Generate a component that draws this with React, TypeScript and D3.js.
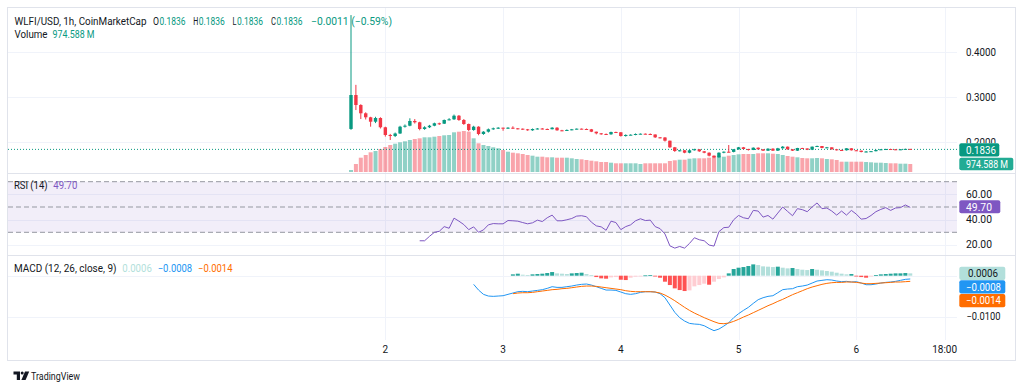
import * as d3 from 'd3'

const W = 1024
const H = 389
const FONT = 'Roboto, "Noto Sans", sans-serif'
const TEXT = '#131722'
const UP = '#089981'
const DOWN = '#f23645'
const GRID = '#f0f3fa'
const BORDER = '#e0e3eb'

// hourly candles, first one at day 1 17:00
const tickIdx = [7, 31, 55, 79, 103, 121]
const tickLabels = ['2', '3', '4', '5', '6', '18:00']

const firstOpen = 0.229
const closes = [
  0.3044, 0.2822, 0.2638, 0.2549, 0.2451, 0.2533, 0.2327, 0.2156, 0.2133, 0.2189,
  0.2340, 0.2362, 0.2467, 0.2438, 0.2289, 0.2327, 0.2362, 0.2416, 0.2407, 0.2489,
  0.2504, 0.2584, 0.2489, 0.2400, 0.2267, 0.2340, 0.2178, 0.2229, 0.2282, 0.2304,
  0.2318, 0.2296, 0.2318, 0.2304, 0.2296, 0.2282, 0.2260, 0.2289, 0.2300, 0.2289,
  0.2284, 0.2318, 0.2260, 0.2256, 0.2267, 0.2282, 0.2296, 0.2289, 0.2282, 0.2229,
  0.2193, 0.2178, 0.2171, 0.2222, 0.2216, 0.2133, 0.2156, 0.2162, 0.2178, 0.2184,
  0.2178, 0.2167, 0.2104, 0.2100, 0.2029, 0.1882, 0.1800, 0.1816, 0.1762, 0.1816,
  0.1838, 0.1793, 0.1762, 0.1696, 0.1660, 0.1762, 0.1784, 0.1780, 0.1838, 0.1882,
  0.1844, 0.1822, 0.1873, 0.1838, 0.1807, 0.1851, 0.1807, 0.1860, 0.1896, 0.1838,
  0.1807, 0.1867, 0.1856, 0.1829, 0.1896, 0.1911, 0.1867, 0.1882, 0.1838, 0.1822,
  0.1816, 0.1860, 0.1816, 0.1807, 0.1778, 0.1789, 0.1796, 0.1822, 0.1838, 0.1844,
  0.1838, 0.1829, 0.1838, 0.1847, 0.1836,
]
const highs = [
  0.482, 0.327, 0.284, 0.266, 0.256, 0.256, 0.255, 0.234, 0.218, 0.221,
  0.236, 0.239, 0.2527, 0.251, 0.245, 0.235, 0.238, 0.243, 0.243, 0.250,
  0.253, 0.261, 0.260, 0.251, 0.241, 0.236, 0.235, 0.224, 0.230, 0.232,
  0.233, 0.232, 0.233, 0.235, 0.231, 0.230, 0.229, 0.230, 0.231, 0.231,
  0.230, 0.233, 0.233, 0.227, 0.228, 0.229, 0.230, 0.230, 0.230, 0.229,
  0.223, 0.220, 0.219, 0.223, 0.223, 0.222, 0.217, 0.217, 0.219, 0.219,
  0.219, 0.219, 0.217, 0.211, 0.211, 0.203, 0.189, 0.182, 0.182, 0.182,
  0.185, 0.184, 0.180, 0.177, 0.170, 0.177, 0.179, 0.1933, 0.184, 0.189,
  0.189, 0.185, 0.188, 0.188, 0.184, 0.186, 0.186, 0.187, 0.191, 0.190,
  0.184, 0.187, 0.187, 0.186, 0.190, 0.192, 0.191, 0.189, 0.188, 0.184,
  0.183, 0.186, 0.186, 0.182, 0.181, 0.180, 0.180, 0.183, 0.184, 0.185,
  0.185, 0.184, 0.184, 0.185, 0.1847,
]
const lows = [
  0.227, 0.271, 0.251, 0.250, 0.234, 0.242, 0.230, 0.212, 0.2044, 0.211,
  0.218, 0.232, 0.235, 0.241, 0.226, 0.227, 0.231, 0.235, 0.238, 0.240,
  0.248, 0.249, 0.247, 0.238, 0.224, 0.225, 0.215, 0.216, 0.221, 0.227,
  0.229, 0.225, 0.229, 0.229, 0.228, 0.227, 0.225, 0.225, 0.228, 0.228,
  0.227, 0.228, 0.225, 0.224, 0.225, 0.226, 0.228, 0.228, 0.227, 0.222,
  0.217, 0.216, 0.216, 0.216, 0.220, 0.212, 0.212, 0.215, 0.215, 0.217,
  0.217, 0.216, 0.209, 0.208, 0.201, 0.187, 0.178, 0.179, 0.175, 0.175,
  0.181, 0.178, 0.175, 0.168, 0.164, 0.165, 0.175, 0.177, 0.177, 0.183,
  0.184, 0.181, 0.182, 0.183, 0.180, 0.180, 0.180, 0.180, 0.185, 0.183,
  0.180, 0.180, 0.185, 0.182, 0.182, 0.189, 0.186, 0.186, 0.183, 0.181,
  0.181, 0.181, 0.181, 0.180, 0.177, 0.177, 0.178, 0.179, 0.182, 0.183,
  0.183, 0.182, 0.182, 0.183, 0.1836,
]
// volume in millions
const volumes = [
  244, 976, 1745, 2074, 2403, 2562, 2806, 3050, 3294, 3453,
  3623, 3745, 3904, 4026, 4111, 4233, 4233, 4307, 4392, 4477,
  4514, 4843, 4917, 5002, 4917, 4111, 3501, 3294, 3172, 3013,
  2891, 2684, 2477, 2355, 2281, 2196, 2074, 1989, 1867, 1867,
  1793, 1793, 1745, 1745, 1745, 1671, 1586, 1549, 1464, 1379,
  1305, 1220, 1220, 1135, 1061, 1061, 1061, 1061, 1061, 976,
  1061, 1061, 1061, 1061, 1061, 1342, 1427, 1501, 1501, 1623,
  1671, 1671, 1671, 1745, 1915, 1989, 1867, 1989, 2074, 2159,
  2196, 2196, 2196, 2281, 2281, 2281, 2233, 2196, 2074, 1952,
  1867, 1793, 1708, 1671, 1671, 1708, 1671, 1586, 1549, 1464,
  1257, 1257, 1257, 1257, 1257, 1220, 1183, 1135, 1135, 1098,
  1061, 1061, 1013, 1013, 974.588,
]

const rsiStart = 14
const rsiValues = [
  23.3, 23.3, 26.8, 30.0, 30.8, 34.5, 33.2, 41.2, 38.8, 36.1,
  32.1, 34.3, 30.0, 31.9, 35.9, 36.9, 36.7, 36.7, 39.3, 39.1,
  38.8, 37.7, 36.7, 37.5, 39.6, 38.5, 41.5, 43.6, 39.1, 39.1,
  39.9, 40.9, 42.8, 43.1, 42.3, 38.0, 35.1, 34.3, 31.6, 38.8,
  37.7, 32.1, 34.5, 35.9, 39.1, 40.7, 39.3, 39.6, 34.5, 32.9,
  28.7, 19.3, 17.5, 18.8, 17.5, 21.2, 25.7, 24.1, 23.3, 19.9,
  19.1, 30.5, 33.7, 34.0, 39.9, 43.3, 41.5, 40.7, 47.3, 46.8,
  42.0, 43.3, 40.4, 45.2, 50.0, 46.5, 43.1, 48.7, 47.9, 46.3,
  50.0, 53.2, 48.7, 49.2, 46.8, 43.6, 46.8, 43.6, 47.3, 44.4,
  40.4, 40.9, 43.3, 46.3, 48.1, 49.5, 47.3, 49.2, 49.5, 51.6,
  49.7,
]
const rsiTicks = [60, 40, 20]
const rsiBands = [70, 50, 30]

const macdStart = 25
const macdValues = [
  -0.00211, -0.0035, -0.00455, -0.00496, -0.00504, -0.00496, -0.00488, -0.00455, -0.00423, -0.0039,
  -0.00382, -0.0039, -0.00374, -0.00358, -0.00341, -0.00309, -0.00268, -0.00285, -0.00285, -0.00268,
  -0.00252, -0.00228, -0.00211, -0.00203, -0.00228, -0.00268, -0.00309, -0.0035, -0.0035, -0.00358,
  -0.00398, -0.00439, -0.00455, -0.00439, -0.00407, -0.0039, -0.0039, -0.00398, -0.00439, -0.00537,
  -0.00715, -0.00894, -0.01024, -0.01106, -0.01163, -0.01179, -0.01187, -0.0122, -0.01285, -0.01341,
  -0.01301, -0.01228, -0.01146, -0.01024, -0.00927, -0.00846, -0.00772, -0.00675, -0.00585, -0.00537,
  -0.00504, -0.00488, -0.00415, -0.00341, -0.00325, -0.00317, -0.00268, -0.00252, -0.00228, -0.00179,
  -0.0013, -0.00114, -0.00098, -0.00106, -0.0013, -0.00146, -0.00138, -0.00154, -0.00146, -0.00179,
  -0.0022, -0.0022, -0.00203, -0.00179, -0.00163, -0.00154, -0.00138, -0.00114, -0.00089, -0.0008,
]
const signalStart = 33
const signalValues = [
  -0.00439, -0.00423, -0.00415, -0.00415, -0.00407, -0.0039, -0.00374, -0.00358, -0.00341, -0.00333,
  -0.00317, -0.00309, -0.00293, -0.00276, -0.0026, -0.00252, -0.00252, -0.0026, -0.00276, -0.00293,
  -0.00309, -0.00325, -0.00341, -0.00366, -0.00382, -0.0039, -0.0039, -0.0039, -0.0039, -0.00398,
  -0.00423, -0.00472, -0.00537, -0.0061, -0.00691, -0.00772, -0.00846, -0.00911, -0.00967, -0.01024,
  -0.01073, -0.01122, -0.01163, -0.01171, -0.01154, -0.01114, -0.01065, -0.01008, -0.00959, -0.00902,
  -0.00846, -0.00789, -0.00732, -0.00683, -0.00626, -0.00577, -0.0052, -0.00463, -0.00415, -0.00366,
  -0.00317, -0.00276, -0.00244, -0.00211, -0.00187, -0.00171, -0.00163, -0.00163, -0.00154, -0.00154,
  -0.00163, -0.00179, -0.00195, -0.00195, -0.00187, -0.00179, -0.00171, -0.00163, -0.00154, -0.00154,
  -0.00146, -0.00138,
]
const histValues = [
  0.00033, 0.00049, 0.00024, 0.00016, 0.00033, 0.00041, 0.00049, 0.00065, 0.00089, 0.00057,
  0.00049, 0.00041, 0.00057, 0.00065, 0.00073, 0.00041, 0.00016, -0.00033, -0.00065, -0.00073,
  -0.00041, -0.00033, -0.00098, -0.00106, -0.00049, -0.00024, -0.00008, 0.00008, 0.00016, -0.00016,
  -0.00049, -0.00146, -0.00228, -0.00309, -0.0035, -0.00374, -0.00358, -0.0026, -0.00228, -0.00195,
  -0.0022, -0.00146, -0.00081, -0.00041, 0.00057, 0.00163, 0.00195, 0.00211, 0.00236, 0.00276,
  0.0026, 0.00228, 0.0022, 0.00211, 0.0022, 0.00195, 0.00179, 0.00187, 0.00163, 0.00146,
  0.00138, 0.00163, 0.00146, 0.0013, 0.00114, 0.00098, 0.00073, 0.00049, 0.00033, 0.00041,
  -0.00016, -0.00033, -0.00049, -0.00016, 0.00016, 0.00033, 0.00041, 0.00049, 0.00057, 0.00057,
  0.00065, 0.00057,
]

const priceTicks = [0.2, 0.3, 0.4]
const macdTicks = [0, -0.01]

const headerParts = [
  { x: 14.5, text: 'WLFI/USD, 1h, CoinMarketCap', color: TEXT, len: 132 },
  { x: 153, text: 'O', color: TEXT, len: 6 },
  { x: 159.5, text: '0.1836', color: UP, len: 26 },
  { x: 193.3, text: 'H', color: TEXT, len: 5 },
  { x: 198.8, text: '0.1836', color: UP, len: 26 },
  { x: 232.6, text: 'L', color: TEXT, len: 4 },
  { x: 237.1, text: '0.1836', color: UP, len: 26 },
  { x: 271, text: 'C', color: TEXT, len: 5 },
  { x: 276.5, text: '0.1836', color: UP, len: 26 },
  { x: 311, text: '−0.0011 (−0.59%)', color: UP, len: 81 },
]

const fmtVol = (v: number) => `${v.toFixed(3)} M`

function Label({ x, y, text, fill, size = 10, anchor = 'start', len, clip }: any) {
  return (
    <text x={x} y={y} fill={fill} fontSize={size} textAnchor={anchor} clipPath={clip}
      {...(len ? { textLength: len, lengthAdjust: 'spacingAndGlyphs' } : {})}>
      {text}
    </text>
  )
}

export default function App() {
  const x = d3.scaleLinear().domain([0, 121]).range([351, 944.6])
  const yP = d3.scaleLinear().domain([0.2, 0.4]).range([142, 52])
  const yV = d3.scaleLinear().domain([0, 5002]).range([172, 131])
  const yR = d3.scaleLinear().domain([30, 70]).range([232.3, 181.7])
  const yM = d3.scaleLinear().domain([-0.01, 0]).range([316.7, 275.7])

  const opens = closes.map((c, i) => (i === 0 ? firstOpen : closes[i - 1]))
  const left = 8
  const plotRight = 957
  const right = 1015

  const rsiPath = d3.line<number>().x((_, k) => x(rsiStart + k)).y(d => yR(d))(rsiValues) || ''
  const macdPath = d3.line<number>().x((_, k) => x(macdStart + k)).y(d => yM(d))(macdValues) || ''
  const signalPath = d3.line<number>().x((_, k) => x(signalStart + k)).y(d => yM(d))(signalValues) || ''

  const histColor = (v: number, prev: number) =>
    v >= 0 ? (v >= prev ? '#26a69a' : '#b2dfdb') : (v < prev ? '#ff5252' : '#ffcdd2')

  const lastClose = closes[closes.length - 1]
  const lastVol = fmtVol(volumes[volumes.length - 1])

  return (
    <svg width={W} height={H} style={{ position: 'absolute', left: 0, top: 0, fontFamily: FONT }}>
      <defs>
        <clipPath id="aboveBox">
          <rect x={950} y={120} width={70} height={23.3} />
        </clipPath>
      </defs>
      <rect width={W} height={H} fill="#fff" />
      <rect x={7.5} y={7.5} width={1008} height={353} fill="none" stroke={BORDER} />

      {/* vertical grid */}
      {tickIdx.map(t => (
        <line key={t} x1={Math.round(x(t)) + 0.5} x2={Math.round(x(t)) + 0.5} y1={8} y2={340} stroke={GRID} />
      ))}
      {/* price grid */}
      {priceTicks.map(p => (
        <line key={p} x1={left} x2={plotRight} y1={Math.round(yP(p)) + 0.5} y2={Math.round(yP(p)) + 0.5} stroke={GRID} />
      ))}
      {/* rsi grid */}
      {rsiTicks.map(r => (
        <line key={r} x1={left} x2={plotRight} y1={Math.round(yR(r)) + 0.5} y2={Math.round(yR(r)) + 0.5} stroke={GRID} />
      ))}
      {macdTicks.map(m => (
        <line key={m} x1={left} x2={plotRight} y1={Math.round(yM(m)) + 0.5} y2={Math.round(yM(m)) + 0.5} stroke={GRID} />
      ))}

      {/* pane separators */}
      <line x1={left} x2={right} y1={173.5} y2={173.5} stroke={BORDER} />
      <line x1={left} x2={right} y1={255.5} y2={255.5} stroke={BORDER} />

      {/* volume */}
      {volumes.map((v, i) => (
        <rect key={i} x={x(i) - 2} width={4} y={yV(v)} height={yV(0) - yV(v)}
          fill={closes[i] >= opens[i] ? UP : DOWN} fillOpacity={0.45} />
      ))}

      {/* last price line */}
      <line x1={left} x2={plotRight} y1={yP(lastClose)} y2={yP(lastClose)} stroke={UP} strokeDasharray="1,2" />

      {/* candles */}
      {closes.map((c, i) => {
        const o = opens[i]
        const col = c >= o ? UP : DOWN
        const top = yP(Math.max(o, c))
        const h = Math.max(1, Math.abs(yP(o) - yP(c)))
        return (
          <g key={i}>
            <line x1={x(i)} x2={x(i)} y1={yP(highs[i])} y2={yP(lows[i])} stroke={col} strokeWidth={1} />
            <rect x={x(i) - 1.7} width={3.4} y={top} height={h} fill={col} />
          </g>
        )
      })}

      {/* RSI */}
      <rect x={left} width={plotRight - left} y={yR(70)} height={yR(30) - yR(70)} fill="#7e57c2" fillOpacity={0.1} />
      {rsiBands.map(b => (
        <line key={b} x1={left} x2={plotRight} y1={yR(b)} y2={yR(b)} stroke="#9598a1" strokeDasharray="5,3" />
      ))}
      <path d={rsiPath} fill="none" stroke="#7e57c2" strokeWidth={1} />

      {/* MACD */}
      {histValues.map((v, k) => {
        const prev = k === 0 ? 0 : histValues[k - 1]
        const y0 = yM(0)
        const y1 = yM(v)
        return (
          <rect key={k} x={x(signalStart + k) - 2} width={4} y={Math.min(y0, y1)} height={Math.max(0.8, Math.abs(y1 - y0))}
            fill={histColor(v, prev)} />
        )
      })}
      <path d={macdPath} fill="none" stroke="#2196f3" strokeWidth={1} />
      <path d={signalPath} fill="none" stroke="#ff6d00" strokeWidth={1} />

      {/* header legends */}
      {headerParts.map((p, i) => (
        <Label key={i} x={p.x} y={24.5} text={p.text} fill={p.color} len={p.len} />
      ))}
      <Label x={14.5} y={38} text="Volume" fill={TEXT} len={33} />
      <Label x={52.5} y={38} text={lastVol} fill={UP} len={42} />

      <Label x={14} y={188.5} text="RSI (14)" fill={TEXT} len={33.5} />
      <Label x={53.3} y={188.5} text={rsiValues[rsiValues.length - 1].toFixed(2)} fill="#7e57c2" len={24} />

      <Label x={14} y={271.5} text="MACD (12, 26, close, 9)" fill={TEXT} len={102.5} />
      <Label x={122.3} y={271.5} text={histValues[histValues.length - 1].toFixed(4)} fill="#b2dfdb" len={29.5} />
      <Label x={157.7} y={271.5} text={`−${Math.abs(macdValues[macdValues.length - 1]).toFixed(4)}`} fill="#2196f3" len={34.5} />
      <Label x={198} y={271.5} text={`−${Math.abs(signalValues[signalValues.length - 1]).toFixed(4)}`} fill="#ff6d00" len={34.5} />

      {/* price axis */}
      <Label x={966} y={yP(0.4) + 3.5} text="0.4000" fill={TEXT} len={30} />
      <Label x={966} y={yP(0.3) + 3.5} text="0.3000" fill={TEXT} len={30} />
      <Label x={966} y={yP(0.2) + 3.5} text="0.2000" fill={TEXT} len={30} clip="url(#aboveBox)" />
      <rect x={959.3} y={143.3} width={40} height={13.2} rx={2} fill={UP} />
      <Label x={966} y={153.5} text={lastClose.toFixed(4)} fill="#fff" len={30} />
      <rect x={959.3} y={157.7} width={54} height={12.6} rx={2} fill="#22ab94" />
      <Label x={966} y={167.5} text={lastVol} fill="#fff" len={42} />

      {rsiTicks.map(r => (
        <Label key={r} x={966} y={yR(r) + 3.5} text={r.toFixed(2)} fill={TEXT} len={26} />
      ))}
      <rect x={959.3} y={200.3} width={41} height={13} rx={2} fill="#7e57c2" />
      <Label x={966} y={210.5} text={rsiValues[rsiValues.length - 1].toFixed(2)} fill="#fff" len={26} />

      <Label x={966.5} y={yM(-0.01) + 3.5} text="−0.0100" fill={TEXT} len={34} />
      <rect x={959.3} y={266.7} width={46} height={13.3} rx={2} fill="#b2dfdb" />
      <Label x={968} y={277} text={histValues[histValues.length - 1].toFixed(4)} fill={TEXT} len={30} />
      <rect x={959.3} y={280.3} width={46} height={13.3} rx={2} fill="#2196f3" />
      <Label x={966} y={290.6} text={`−${Math.abs(macdValues[macdValues.length - 1]).toFixed(4)}`} fill="#fff" len={35} />
      <rect x={959.3} y={294} width={46} height={13.3} rx={2} fill="#ff6d00" />
      <Label x={966} y={304.3} text={`−${Math.abs(signalValues[signalValues.length - 1]).toFixed(4)}`} fill="#fff" len={35} />

      {/* time axis */}
      {tickIdx.map((t, k) => (
        <Label key={t} x={x(t)} y={352.5} text={tickLabels[k]} fill={TEXT} anchor="middle" />
      ))}

      {/* logo */}
      <g fill={TEXT}>
        <path d="M13.5 371.5h6.5v8.5h-3.2v-5.6h-3.3z" />
        <circle cx={22.2} cy={373} r={1.5} />
        <path d="M25 371.5h4.2l-3.6 8.5h-4.2z" />
      </g>
      <Label x={31} y={379.5} text="TradingView" fill={TEXT} size={11} len={49} />
    </svg>
  )
}
